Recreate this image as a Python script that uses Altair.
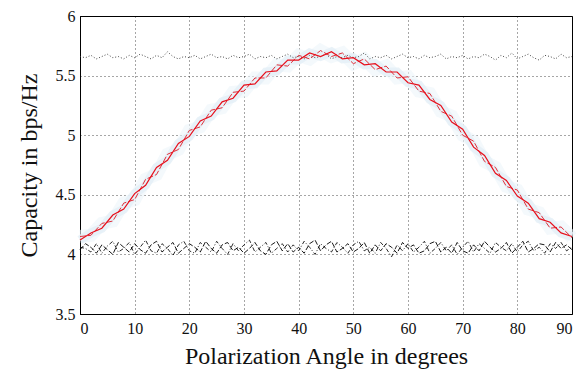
import altair as alt
import pandas as pd

angles2 = list(range(0, 91, 2))
angles1 = list(range(0, 91, 1))

red_a = [4.12, 4.18, 4.22, 4.33, 4.38, 4.51, 4.58, 4.73, 4.79, 4.93,
         4.99, 5.12, 5.16, 5.28, 5.31, 5.42, 5.43, 5.53, 5.54, 5.63,
         5.63, 5.69, 5.66, 5.70, 5.64, 5.65, 5.59, 5.60, 5.53, 5.53,
         5.44, 5.42, 5.30, 5.25, 5.11, 5.05, 4.90, 4.83, 4.68, 4.62,
         4.49, 4.43, 4.30, 4.27, 4.18, 4.15]

red_b = [4.15, 4.16, 4.26, 4.28, 4.43, 4.46, 4.63, 4.67, 4.84, 4.88,
         5.04, 5.07, 5.21, 5.23, 5.36, 5.37, 5.48, 5.48, 5.59, 5.58,
         5.67, 5.64, 5.71, 5.66, 5.69, 5.60, 5.64, 5.55, 5.58, 5.48,
         5.49, 5.37, 5.35, 5.20, 5.16, 5.00, 4.95, 4.78, 4.73, 4.57,
         4.54, 4.38, 4.35, 4.22, 4.23, 4.14]

black_a = [4.06, 4.05, 4.02, 4.09, 4.01, 4.07, 4.11, 4.02, 4.05, 4.10,
           4.00, 4.06, 4.12, 4.03, 4.01, 4.09, 4.05, 3.99, 4.08, 4.11,
           4.03, 4.01, 4.10, 4.06, 4.02, 4.11, 4.05, 4.00, 4.09, 4.03,
           4.08, 4.12, 4.02, 4.06, 4.10, 4.01, 4.05, 4.09, 4.02, 4.08,
           4.03, 4.11, 4.06, 4.00, 4.09, 4.05, 4.02, 4.10, 4.06, 4.01,
           4.08, 4.11, 4.03, 4.06, 4.01, 4.10, 4.05, 3.98, 4.08, 4.03,
           4.09, 4.02, 4.06, 4.11, 4.01, 4.05, 4.10, 4.03, 4.08, 4.00,
           4.06, 4.11, 4.02, 4.09, 4.05, 4.01, 4.10, 4.06, 4.03, 4.09,
           4.02, 4.08, 4.11, 4.03, 4.06, 4.01, 4.09, 4.05, 4.10, 4.03,
           4.06]

black_b = [4.04, 4.09, 4.06, 4.01, 4.08, 4.04, 4.00, 4.10, 4.06, 4.02,
           4.09, 4.04, 4.01, 4.08, 4.11, 4.02, 4.06, 4.10, 4.01, 4.05,
           4.09, 4.06, 4.02, 4.11, 4.05, 4.01, 4.08, 4.10, 4.03, 4.06,
           4.01, 4.05, 4.10, 4.03, 4.00, 4.08, 4.11, 4.03, 4.09, 4.02,
           4.06, 4.01, 4.09, 4.12, 4.03, 4.08, 4.11, 4.02, 4.05, 4.09,
           4.02, 4.05, 4.10, 4.01, 4.08, 4.03, 4.09, 4.06, 4.01, 4.10,
           4.05, 4.08, 4.01, 4.03, 4.09, 4.11, 4.02, 4.06, 4.01, 4.10,
           4.03, 4.01, 4.08, 4.03, 4.11, 4.06, 4.02, 4.05, 4.10, 4.01,
           4.06, 4.11, 4.02, 4.05, 4.09, 4.08, 4.02, 4.10, 4.05, 4.08,
           4.04]

dotted_top = [5.66, 5.65, 5.67, 5.64, 5.66, 5.68, 5.65, 5.66, 5.64, 5.67,
              5.65, 5.68, 5.66, 5.64, 5.67, 5.65, 5.70, 5.66, 5.64, 5.66,
              5.65, 5.67, 5.64, 5.66, 5.68, 5.65, 5.66, 5.64, 5.67, 5.65,
              5.66, 5.68, 5.64, 5.66, 5.65, 5.67, 5.64, 5.66, 5.68, 5.65,
              5.66, 5.64, 5.67, 5.65, 5.66, 5.68, 5.64, 5.66, 5.65, 5.67,
              5.65, 5.66, 5.69, 5.64, 5.66, 5.65, 5.67, 5.64, 5.66, 5.68,
              5.65, 5.66, 5.64, 5.67, 5.65, 5.66, 5.68, 5.64, 5.66, 5.65,
              5.67, 5.64, 5.66, 5.65, 5.68, 5.66, 5.63, 5.67, 5.65, 5.69,
              5.64, 5.66, 5.68, 5.65, 5.63, 5.67, 5.66, 5.64, 5.68, 5.65,
              5.66]

x_ticks = [0, 10, 20, 30, 40, 50, 60, 70, 80, 90]
y_ticks = [3.5, 4, 4.5, 5, 5.5, 6]


def frame(xs, ys, name):
    return pd.DataFrame({"angle": xs, "cap": ys, "series": name})


df_ra = frame(angles2, red_a, "red_a")
df_rb = frame(angles2, red_b, "red_b")
df_ba = frame(angles1, black_a, "black_a")
df_bb = frame(angles1, black_b, "black_b")
df_dt = frame(angles1, dotted_top, "dotted")

FONT = "Liberation Serif"

x_enc = alt.X("angle:Q",
              scale=alt.Scale(domain=[0, 90], nice=False),
              axis=alt.Axis(values=x_ticks, title="Polarization Angle in degrees"))
y_enc = alt.Y("cap:Q",
              scale=alt.Scale(domain=[3.5, 6], nice=False),
              axis=alt.Axis(values=y_ticks, format="~g", title="Capacity in bps/Hz"))

halo = alt.Chart(df_ra).mark_line(color="#e3eff6", strokeWidth=9, opacity=0.8).encode(x=x_enc, y=y_enc)
halo2 = alt.Chart(df_rb).mark_line(color="#edf5fa", strokeWidth=13, opacity=0.6).encode(x=x_enc, y=y_enc)
dotted = alt.Chart(df_dt).mark_line(color="#333333", strokeWidth=0.9, strokeDash=[1, 2]).encode(x=x_enc, y=y_enc)
blk_a = alt.Chart(df_ba).mark_line(color="#111111", strokeWidth=0.9, strokeDash=[4, 2, 1, 2]).encode(x=x_enc, y=y_enc)
blk_b = alt.Chart(df_bb).mark_line(color="#000000", strokeWidth=0.9, strokeDash=[5, 2]).encode(x=x_enc, y=y_enc)
red_b_line = alt.Chart(df_rb).mark_line(color="#e0303a", strokeWidth=1.0, strokeDash=[6, 2]).encode(x=x_enc, y=y_enc)
red_a_line = alt.Chart(df_ra).mark_line(color="#e8101c", strokeWidth=1.2).encode(x=x_enc, y=y_enc)

chart = alt.layer(halo2, halo, dotted, blk_a, blk_b, red_b_line, red_a_line).properties(
    width=492, height=298, background="white",
    autosize=alt.AutoSizeParams(type="none"),
    padding={"left": 72, "top": 8, "right": 7, "bottom": 55}
).configure_view(
    stroke="#000000", strokeWidth=1
).configure_axis(
    labelFont=FONT, titleFont=FONT,
    labelFontSize=16, titleFontSize=24,
    labelColor="#111111", titleColor="#111111",
    titleFontWeight="normal",
    grid=True, gridColor="#000000", gridDash=[1, 3], gridOpacity=0.7, gridWidth=1,
    ticks=False, domain=True, domainColor="#000000"
).configure_axisX(
    labelPadding=6, titlePadding=8
).configure_axisY(
    labelPadding=5, titlePadding=14
)

chart.save("out.html", embed_options={"renderer": "svg", "actions": False})
